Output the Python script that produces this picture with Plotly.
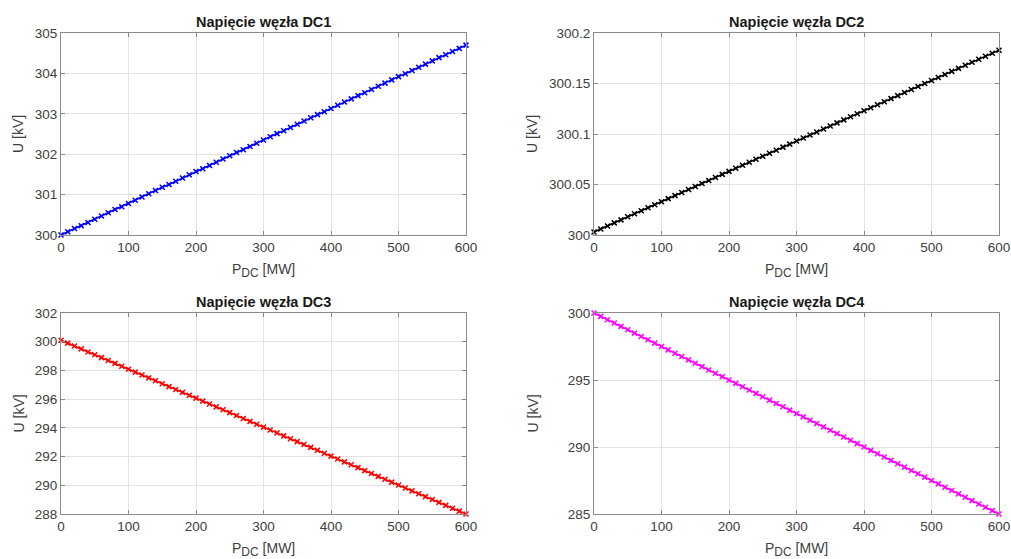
import plotly.graph_objects as go

P_DC = [0, 10, 20, 30, 40, 50, 60, 70, 80, 90, 100, 110, 120, 130, 140, 150, 160, 170, 180, 190,
        200, 210, 220, 230, 240, 250, 260, 270, 280, 290, 300, 310, 320, 330, 340, 350, 360, 370, 380, 390,
        400, 410, 420, 430, 440, 450, 460, 470, 480, 490, 500, 510, 520, 530, 540, 550, 560, 570, 580, 590, 600]

U_DC1 = [300.00, 300.08, 300.16, 300.23, 300.31, 300.39, 300.47, 300.55, 300.63, 300.70,
         300.78, 300.86, 300.94, 301.02, 301.10, 301.18, 301.25, 301.33, 301.41, 301.49,
         301.57, 301.64, 301.72, 301.80, 301.88, 301.96, 302.04, 302.11, 302.19, 302.27,
         302.35, 302.43, 302.51, 302.58, 302.66, 302.74, 302.82, 302.90, 302.98, 303.05,
         303.13, 303.21, 303.29, 303.37, 303.45, 303.52, 303.60, 303.68, 303.76, 303.84,
         303.92, 303.99, 304.07, 304.15, 304.23, 304.31, 304.39, 304.46, 304.54, 304.62, 304.70]

U_DC2 = [300.003, 300.006, 300.009, 300.012, 300.015, 300.018, 300.021, 300.024, 300.027, 300.030,
         300.033, 300.036, 300.039, 300.042, 300.045, 300.048, 300.051, 300.054, 300.057, 300.060,
         300.063, 300.066, 300.069, 300.072, 300.075, 300.078, 300.081, 300.084, 300.087, 300.090,
         300.093, 300.096, 300.099, 300.102, 300.105, 300.108, 300.111, 300.114, 300.117, 300.120,
         300.123, 300.126, 300.129, 300.132, 300.135, 300.138, 300.141, 300.144, 300.147, 300.150,
         300.153, 300.156, 300.159, 300.162, 300.165, 300.168, 300.171, 300.174, 300.177, 300.180, 300.183]

U_DC3 = [300.10, 299.90, 299.70, 299.50, 299.29, 299.09, 298.89, 298.69, 298.49, 298.29,
         298.08, 297.88, 297.68, 297.48, 297.28, 297.07, 296.87, 296.67, 296.47, 296.27,
         296.07, 295.86, 295.66, 295.46, 295.26, 295.06, 294.86, 294.65, 294.45, 294.25,
         294.05, 293.85, 293.65, 293.44, 293.24, 293.04, 292.84, 292.64, 292.44, 292.23,
         292.03, 291.83, 291.63, 291.43, 291.23, 291.02, 290.82, 290.62, 290.42, 290.22,
         290.02, 289.81, 289.61, 289.41, 289.21, 289.01, 288.81, 288.60, 288.40, 288.20, 288.00]

U_DC4 = [300.00, 299.75, 299.50, 299.25, 299.00, 298.75, 298.50, 298.25, 298.00, 297.75,
         297.50, 297.25, 297.00, 296.75, 296.50, 296.25, 296.00, 295.75, 295.50, 295.25,
         295.00, 294.75, 294.50, 294.25, 294.00, 293.75, 293.50, 293.25, 293.00, 292.75,
         292.50, 292.25, 292.00, 291.75, 291.50, 291.25, 291.00, 290.75, 290.50, 290.25,
         290.00, 289.75, 289.50, 289.25, 289.00, 288.75, 288.50, 288.25, 288.00, 287.75,
         287.50, 287.25, 287.00, 286.75, 286.50, 286.25, 286.00, 285.75, 285.50, 285.25, 285.00]

titles = ["Napięcie węzła DC1", "Napięcie węzła DC2", "Napięcie węzła DC3", "Napięcie węzła DC4"]
series = [U_DC1, U_DC2, U_DC3, U_DC4]
colors = ["#0000ff", "#000000", "#ff0000", "#ff00ff"]

x_ticks = [0, 100, 200, 300, 400, 500, 600]
y_ticks = [
    [300, 301, 302, 303, 304, 305],
    [300, 300.05, 300.1, 300.15, 300.2],
    [288, 290, 292, 294, 296, 298, 300, 302],
    [285, 290, 295, 300],
]
y_tick_text = [
    ["300", "301", "302", "303", "304", "305"],
    ["300", "300.05", "300.1", "300.15", "300.2"],
    ["288", "290", "292", "294", "296", "298", "300", "302"],
    ["285", "290", "295", "300"],
]
y_ranges = [[300, 305], [300, 300.2], [288, 302], [285, 300]]

W, H = 1011, 559
# pixel boxes: (left, right, top, bottom)
boxes = [(61, 466, 33, 235), (594, 999, 33, 235), (61, 466, 313, 514), (594, 999, 313, 514)]

fig = go.Figure()
layout = dict(
    width=W, height=H,
    margin=dict(l=0, r=0, t=0, b=0, autoexpand=False),
    paper_bgcolor="white", plot_bgcolor="white",
    showlegend=False,
    font=dict(family="Liberation Sans, Arial, sans-serif", size=13.5, color="#404040"),
)
annotations = []
axis_color = "#8a8a8a"
grid_color = "#e3e3e3"
tick_font = dict(family="Liberation Sans, Arial, sans-serif", size=13.5, color="#404040")

for i in range(4):
    n = "" if i == 0 else str(i + 1)
    l, r, t, b = boxes[i]
    fig.add_trace(go.Scatter(
        x=P_DC, y=series[i], mode="lines+markers",
        line=dict(color=colors[i], width=1.6),
        marker=dict(symbol="x-thin", size=5, line=dict(color=colors[i], width=1.5)),
        xaxis="x" + n, yaxis="y" + n, cliponaxis=False,
    ))
    layout["xaxis" + n] = dict(
        domain=[l / W, r / W], anchor="y" + n, range=[0, 600], automargin=False,
        tickvals=x_ticks, ticks="inside", ticklen=4, tickcolor=axis_color,
        showline=True, linecolor=axis_color, linewidth=1, mirror="ticks",
        showgrid=True, gridcolor=grid_color, zeroline=False,
        tickfont=tick_font,
    )
    layout["yaxis" + n] = dict(
        domain=[1 - b / H, 1 - t / H], anchor="x" + n, range=y_ranges[i], automargin=False,
        tickvals=y_ticks[i], ticktext=y_tick_text[i], ticks="inside", ticklen=4, tickcolor=axis_color,
        showline=True, linecolor=axis_color, linewidth=1, mirror="ticks",
        showgrid=True, gridcolor=grid_color, zeroline=False,
        tickfont=tick_font,
    )
    cx = (l + r) / 2 / W
    annotations.append(dict(
        text="<b>" + titles[i] + "</b>", x=cx, y=1 - (t - 11) / H, xref="paper", yref="paper",
        showarrow=False, font=dict(family="Liberation Sans, Arial, sans-serif", size=14.5, color="#1a1a1a"),
        xanchor="center", yanchor="middle",
    ))
    annotations.append(dict(
        text="P<sub><span style='font-size:12px'>DC</span></sub> [MW]", x=cx, y=1 - (b + 35) / H,
        xref="paper", yref="paper",
        showarrow=False, font=dict(family="Liberation Sans, Arial, sans-serif", size=14, color="#404040"),
        xanchor="center", yanchor="middle",
    ))
    annotations.append(dict(
        text="U [kV]", x=(l - 43 if i in (0, 2) else l - 62) / W, y=1 - (t + b) / 2 / H,
        xref="paper", yref="paper", textangle=-90,
        showarrow=False, font=dict(family="Liberation Sans, Arial, sans-serif", size=14, color="#404040"),
        xanchor="center", yanchor="middle",
    ))

layout["annotations"] = annotations
fig.update_layout(**layout)
fig.write_html("out.html", config={"displayModeBar": False},
               post_script="document.body.style.margin='0';document.body.style.overflow='hidden';")
